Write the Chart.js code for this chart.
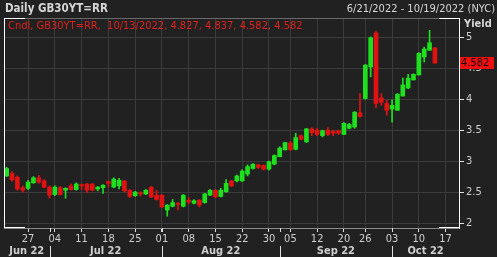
<!DOCTYPE html>
<html>
<head>
<meta charset="utf-8">
<script src="https://cdn.jsdelivr.net/npm/chart.js@4.4.0/dist/chart.umd.min.js"></script>
<style>
  html, body { margin: 0; padding: 0; background: #212121; overflow: hidden; }
  canvas { display: block; }
</style>
</head>
<body>
<canvas id="c" width="497" height="257"></canvas>
<script>
// trading days shown on the axis (UK holidays 29 Aug and 19 Sep missing)
const dates = [
  "06/21","06/22","06/23","06/24","06/27","06/28","06/29","06/30",
  "07/01","07/04","07/05","07/06","07/07","07/08","07/11","07/12","07/13","07/14","07/15",
  "07/18","07/19","07/20","07/21","07/22","07/25","07/26","07/27","07/28","07/29",
  "08/01","08/02","08/03","08/04","08/05","08/08","08/09","08/10","08/11","08/12",
  "08/15","08/16","08/17","08/18","08/19","08/22","08/23","08/24","08/25","08/26",
  "08/30","08/31","09/01","09/02","09/05","09/06","09/07","09/08","09/09",
  "09/12","09/13","09/14","09/15","09/16","09/20","09/21","09/22","09/23",
  "09/26","09/27","09/28","09/29","09/30","10/03","10/04","10/05","10/06","10/07",
  "10/10","10/11","10/12","10/13","10/14","10/17","10/18","10/19"
];

const open = [
  2.76,2.80,2.74,2.57,2.56,2.65,2.73,2.68,
  2.58,2.46,2.57,2.53,2.60,2.54,2.62,2.63,2.63,2.55,2.57,
  2.67,2.58,2.60,2.68,2.53,2.44,2.49,2.47,2.58,2.45,
  2.45,2.21,2.27,2.32,2.27,2.37,2.32,2.37,2.33,2.45,
  2.53,2.43,2.505,2.68,2.68,2.68,2.79,2.88,2.94,2.93,
  2.87,2.95,3.07,3.18,3.29,3.19,3.41,3.31,3.52,
  3.50,3.41,3.50,3.48,3.49,3.43,3.53,3.55,3.78,
  4.01,4.52,5.07,4.02,3.93,3.84,3.82,4.05,4.18,4.31,
  4.39,4.68,4.79,4.827
];
const high = [
  2.90,2.83,2.76,2.60,2.69,2.75,2.77,2.70,
  2.60,2.60,2.59,2.57,2.63,2.65,2.63,2.64,2.64,2.59,2.62,
  2.68,2.73,2.72,2.69,2.54,2.51,2.505,2.54,2.59,2.53,
  2.46,2.30,2.38,2.33,2.46,2.41,2.38,2.38,2.48,2.54,
  2.54,2.56,2.70,2.69,2.775,2.86,2.94,2.96,2.95,2.94,
  3.00,3.10,3.23,3.30,3.32,3.45,3.42,3.53,3.54,
  3.53,3.50,3.54,3.50,3.50,3.62,3.61,3.80,4.09,
  4.56,5.005,5.10,4.09,3.98,3.99,4.09,4.34,4.40,4.41,
  4.75,4.84,5.11,4.837
];
const low = [
  2.75,2.67,2.53,2.50,2.54,2.64,2.64,2.57,
  2.40,2.44,2.45,2.40,2.53,2.53,2.54,2.49,2.52,2.52,2.48,
  2.58,2.57,2.55,2.505,2.41,2.43,2.435,2.46,2.41,2.37,
  2.25,2.11,2.26,2.21,2.26,2.31,2.31,2.26,2.32,2.44,
  2.41,2.42,2.50,2.585,2.665,2.67,2.76,2.87,2.88,2.855,
  2.855,2.94,3.07,3.18,3.18,3.18,3.34,3.30,3.41,
  3.41,3.39,3.41,3.41,3.43,3.43,3.52,3.53,3.71,
  4.00,4.36,3.86,3.90,3.74,3.63,3.82,4.05,4.17,4.31,
  4.39,4.60,4.79,4.582
];
const close = [
  2.88,2.70,2.55,2.53,2.66,2.73,2.66,2.58,
  2.45,2.58,2.46,2.56,2.54,2.63,2.60,2.53,2.53,2.58,2.61,
  2.64,2.71,2.69,2.52,2.43,2.50,2.47,2.53,2.42,2.38,
  2.26,2.29,2.33,2.30,2.45,2.34,2.36,2.29,2.47,2.53,
  2.42,2.53,2.64,2.60,2.76,2.84,2.91,2.95,2.90,2.87,
  2.99,3.09,3.21,3.30,3.18,3.38,3.35,3.52,3.46,
  3.43,3.49,3.43,3.45,3.45,3.61,3.59,3.79,3.72,
  4.55,4.99,3.93,3.95,3.82,3.90,4.08,4.23,4.34,4.40,
  4.74,4.81,4.91,4.582
];

const yTicks = [2, 2.5, 3, 3.5, 4, 4.5, 5];
const weekLabels = ["06/27","07/04","07/11","07/18","07/25","08/01","08/08","08/15","08/22",
  "08/30","09/05","09/12","09/20","09/26","10/03","10/10","10/17"];
const months = ["Jun 22","Jul 22","Aug 22","Sep 22","Oct 22"];
const lastPrice = 4.582;

const GRID = "#3b3b3b", TXT = "#cfcfcf";
const UP = "#1fe01f", DOWN = "#e01212";
const FONT = 'Tahoma, "DejaVu Sans Condensed", "DejaVu Sans", sans-serif';

const colors = open.map((o, i) => close[i] >= o ? UP : DOWN);
const isWeek = i => weekLabels.includes(dates[i]);
const monthStart = dates.map((d, i) => i > 0 && d.slice(0, 2) !== dates[i - 1].slice(0, 2));

const overlay = {
  id: "overlay",
  afterDraw(chart) {
    const { ctx, chartArea: a, scales: { x, y } } = chart;
    ctx.save();
    // frame
    ctx.lineWidth = 1;
    ctx.strokeStyle = "#6a6a6a";
    ctx.beginPath(); ctx.moveTo(a.left, a.top + 0.5); ctx.lineTo(a.right, a.top + 0.5); ctx.stroke();
    ctx.strokeStyle = "#ffffff";
    ctx.beginPath();
    ctx.moveTo(a.left + 0.5, a.top); ctx.lineTo(a.left + 0.5, a.bottom);
    ctx.moveTo(a.left, a.top + 0.5); ctx.lineTo(a.left + 21, a.top + 0.5);
    ctx.moveTo(a.left, a.bottom - 0.5); ctx.lineTo(a.left + 21, a.bottom - 0.5);
    ctx.moveTo(a.right - 20, a.top + 0.5); ctx.lineTo(a.right, a.top + 0.5);
    ctx.moveTo(a.right - 20, a.bottom - 0.5); ctx.lineTo(a.right, a.bottom - 0.5);
    ctx.stroke();

    // month separators and labels
    const starts = [];
    monthStart.forEach((m, i) => { if (m) starts.push(i); });
    const edges = [a.left].concat(starts.map(i => x.getPixelForValue(i))).concat([a.right]);
    ctx.strokeStyle = "#e0e0e0";
    ctx.beginPath();
    starts.forEach(i => {
      const px = Math.round(x.getPixelForValue(i)) + 0.5;
      ctx.moveTo(px, a.bottom); ctx.lineTo(px, a.bottom + 4);
      ctx.moveTo(px, a.bottom + 18); ctx.lineTo(px, a.bottom + 29);
    });
    ctx.stroke();
    ctx.fillStyle = TXT;
    ctx.font = "bold 11px " + FONT;
    ctx.textAlign = "center";
    ctx.textBaseline = "middle";
    months.forEach((m, k) => ctx.fillText(m, (edges[k] + edges[k + 1]) / 2, a.bottom + 23));

    // titles
    ctx.textAlign = "left";
    ctx.font = "bold 11.5px " + FONT;
    ctx.fillStyle = "#d6d6d6";
    ctx.fillText("Daily GB30YT=RR", 5, 9);
    ctx.font = "bold 11px " + FONT;
    ctx.fillText("Yield", a.right + 5, 24);
    ctx.font = "11px " + FONT;
    ctx.textAlign = "right";
    ctx.fillText("6/21/2022 - 10/19/2022 (NYC)", 495, 9);
    ctx.textAlign = "left";
    ctx.fillStyle = "#e0201c";
    const n = open.length - 1;
    ctx.fillText("Cndl, GB30YT=RR,  10/13/2022, " + open[n].toFixed(3) + ", " + high[n].toFixed(3) +
      ", " + low[n].toFixed(3) + ", " + close[n].toFixed(3), 8, 26);

    // last price tag
    const py = y.getPixelForValue(lastPrice);
    ctx.fillStyle = "#ee1010";
    ctx.fillRect(a.right + 1, Math.round(py) - 6, 34, 12);
    ctx.fillStyle = "#1a0000";
    ctx.font = "11px " + FONT;
    ctx.fillText(lastPrice.toFixed(3), a.right + 2, py + 0.5);
    ctx.restore();
  }
};

new Chart(document.getElementById("c"), {
  type: "bar",
  data: {
    labels: dates,
    datasets: [
      {
        label: "body",
        data: open.map((o, i) => [o, close[i]]),
        backgroundColor: colors,
        barThickness: 4,
        grouped: false,
        minBarLength: 1,
      },
      {
        label: "wick",
        data: low.map((l, i) => [l, high[i]]),
        backgroundColor: colors,
        barThickness: 1,
        grouped: false,
      },
    ],
  },
  options: {
    responsive: false,
    animation: false,
    devicePixelRatio: 1,
    layout: { padding: { left: 4, top: 18, right: 0, bottom: 0 } },
    plugins: { legend: { display: false }, tooltip: { enabled: false } },
    scales: {
      x: {
        type: "category",
        offset: true,
        grid: {
          offset: false,
          color: (c) => (isWeek(c.index) ? GRID : "transparent"),
          tickColor: (c) => (isWeek(c.index) ? "#e0e0e0" : "transparent"),
          tickLength: 4,
        },
        border: { color: "#8a8a8a" },
        ticks: {
          autoSkip: false,
          maxRotation: 0,
          minRotation: 0,
          padding: 1,
          color: TXT,
          font: { family: FONT, size: 11 },
          callback: (v, i) => (isWeek(i) ? dates[i].slice(3) : ""),
        },
        afterFit: (s) => { s.height = 29; },
      },
      y: {
        position: "right",
        min: 1.92,
        max: 5.31,
        afterBuildTicks: (s) => { s.ticks = yTicks.map((v) => ({ value: v })); },
        ticks: {
          padding: 2,
          color: TXT,
          font: { family: FONT, size: 11 },
          callback: (v) => String(v),
        },
        grid: { color: GRID, tickColor: "#e0e0e0", tickLength: 5 },
        border: { color: "#ffffff" },
        afterFit: (s) => { s.width = 38; },
      },
    },
  },
  plugins: [overlay],
});
</script>
</body>
</html>
